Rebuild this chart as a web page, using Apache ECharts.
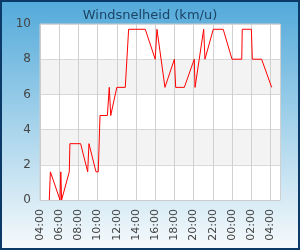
<!DOCTYPE html>
<html>
<head>
<meta charset="utf-8">
<script src="https://cdn.jsdelivr.net/npm/echarts@6/dist/echarts.min.js"></script>
<style>
  html, body { margin: 0; padding: 0; }
  #myChart { width: 300px; height: 250px; }
</style>
</head>
<body>
<div id="myChart"></div>
<script>
// meetmomenten (lokale tijd) en windsnelheid in km/u
var times = [
  '2024-05-01 04:58', '2024-05-01 05:05', '2024-05-01 06:05', '2024-05-01 06:10',
  '2024-05-01 06:15', '2024-05-01 07:03', '2024-05-01 07:07', '2024-05-01 08:14',
  '2024-05-01 08:58', '2024-05-01 09:06', '2024-05-01 09:12', '2024-05-01 09:50',
  '2024-05-01 10:04', '2024-05-01 10:15', '2024-05-01 11:01', '2024-05-01 11:13',
  '2024-05-01 11:22', '2024-05-01 12:00', '2024-05-01 12:53', '2024-05-01 13:14',
  '2024-05-01 14:58', '2024-05-01 16:00', '2024-05-01 16:11', '2024-05-01 17:01',
  '2024-05-01 18:00', '2024-05-01 18:08', '2024-05-01 19:02', '2024-05-01 20:04',
  '2024-05-01 20:09', '2024-05-01 21:03', '2024-05-01 21:11', '2024-05-01 22:03',
  '2024-05-01 23:05', '2024-05-02 00:00', '2024-05-02 01:01', '2024-05-02 01:04',
  '2024-05-02 02:01', '2024-05-02 02:07', '2024-05-02 03:05', '2024-05-02 04:08'
];
var speeds = [
  0, 1.6, 0, 1.6,
  0, 1.6, 3.2, 3.2,
  1.6, 3.2, 3.2, 1.6,
  1.6, 4.8, 4.8, 6.4,
  4.8, 6.4, 6.4, 9.7,
  9.7, 8.0, 9.7, 6.4,
  8.0, 6.4, 6.4, 8.0,
  6.4, 9.7, 8.0, 9.7,
  9.7, 8.0, 8.0, 9.7,
  9.7, 8.0, 8.0, 6.4
];
var startTime = '2024-05-01 04:00';
var yTicks = [0, 2, 4, 6, 8, 10];

// uren sinds startTime
function toHours(s) {
  var p = s.split(/[- :]/).map(Number);
  return Date.UTC(p[0], p[1] - 1, p[2], p[3], p[4]) / 3600000;
}
var t0 = toHours(startTime);
var data = [];
for (var i = 0; i < times.length; i++) {
  data.push([toHours(times[i]) - t0, speeds[i]]);
}

var myChart = echarts.init(document.getElementById('myChart'));
myChart.setOption({
  animation: false,
  backgroundColor: {
    type: 'linear', x: 0, y: 0, x2: 0, y2: 1,
    colorStops: [
      { offset: 0, color: '#52a9da' },
      { offset: 0.5, color: '#a6d3eb' },
      { offset: 1, color: '#f7fafc' }
    ]
  },
  graphic: [{
    type: 'rect',
    shape: { x: 1, y: 1, width: 298, height: 248 },
    style: { fill: 'none', stroke: '#0b3a68', lineWidth: 2 },
    z: 100
  }],
  title: {
    text: 'Windsnelheid (km/u)',
    left: 'center',
    top: 4,
    textStyle: { color: '#1b4466', fontSize: 13, fontWeight: 'normal', fontFamily: 'DejaVu Sans' }
  },
  grid: {
    left: 40, right: 20, top: 24, bottom: 50,
    show: true,
    backgroundColor: '#ffffff',
    borderColor: '#cccccc',
    borderWidth: 1
  },
  xAxis: {
    type: 'value',
    min: 0,
    max: 25,
    interval: 2,
    axisLine: { lineStyle: { color: '#cccccc' } },
    axisTick: { show: false },
    splitLine: { lineStyle: { color: '#d0d0d0' } },
    axisLabel: {
      rotate: 90,
      margin: 9,
      color: '#444444',
      fontSize: 11,
      fontFamily: 'DejaVu Sans',
      formatter: function (v) {
        if (v % 2 !== 0) return '';
        var h = (4 + v) % 24;
        return (h < 10 ? '0' : '') + h + ':00';
      }
    }
  },
  yAxis: {
    type: 'value',
    min: yTicks[0],
    max: yTicks[yTicks.length - 1],
    interval: 2,
    axisLine: { show: true, lineStyle: { color: '#cccccc' } },
    axisTick: { show: false },
    splitLine: { lineStyle: { color: '#d8d8d8' } },
    splitArea: { show: true, areaStyle: { color: ['#ffffff', '#f3f3f3'] } },
    axisLabel: { color: '#444444', fontSize: 12, margin: 9, fontFamily: 'DejaVu Sans' }
  },
  series: [{
    name: 'Windsnelheid',
    type: 'line',
    data: data,
    showSymbol: false,
    lineStyle: { color: '#ff0000', width: 1 },
    itemStyle: { color: '#ff0000' }
  }]
});
</script>
</body>
</html>
